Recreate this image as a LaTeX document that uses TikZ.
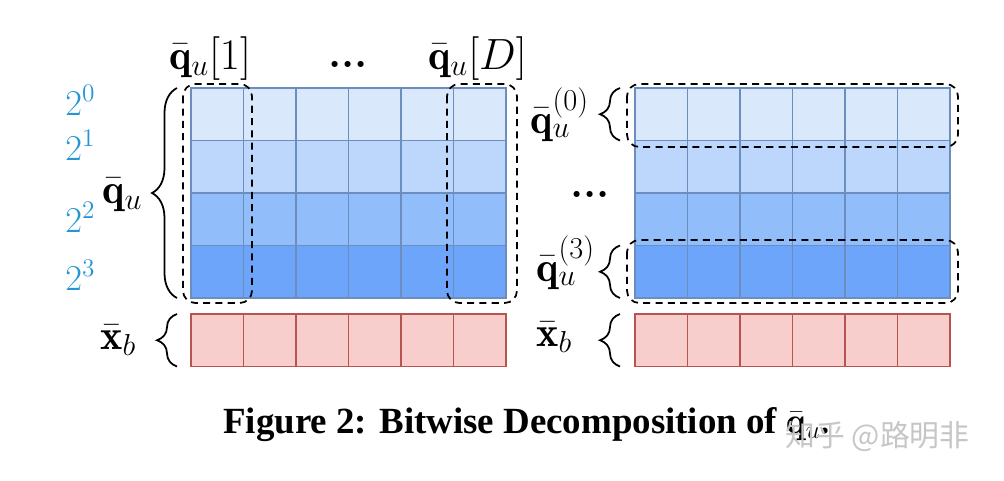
\documentclass[tikz,border=0pt]{standalone}
\usepackage{amsmath}
\usepackage{amssymb}
\usepackage{bm}
\usepackage{fontspec}
\newfontfamily\capfont{Liberation Serif}
\newfontfamily\cjkfont{Noto Sans CJK SC}
\usetikzlibrary{calc,positioning,decorations.pathreplacing}
\definecolor{bitA}{HTML}{DAE8FC}
\definecolor{bitB}{HTML}{BDD7FC}
\definecolor{bitC}{HTML}{91BEFA}
\definecolor{bitD}{HTML}{6CA5FA}
\definecolor{qline}{HTML}{6C8EBF}
\definecolor{xfill}{HTML}{F8CECC}
\definecolor{xline}{HTML}{B85450}
\definecolor{ink}{RGB}{38,150,210}

\begin{document}
\begin{tikzpicture}[>=latex,
  cell/.style={draw=qline, line width=0.9pt, minimum size=1.05cm, inner sep=0pt, outer sep=0pt},
  xcell/.style={draw=xline, fill=xfill, line width=0.9pt, minimum size=1.05cm, inner sep=0pt, outer sep=0pt},
  dashbox/.style={draw, line width=1pt, dash pattern=on 4pt off 3pt, rounded corners=7pt},
  curly/.style={decorate, decoration={brace, amplitude=#1}, line width=1pt},
  lab/.style={font=\fontsize{24}{28}\selectfont, inner sep=0pt},
  hand/.style={text=ink, font=\fontsize{20}{24}\selectfont, inner sep=0pt}]
\useasboundingbox (0,0) rectangle (20.08,-9.6);
% bit planes of q_u, left and right copy
\foreach \r/\col in {1/bitA,2/bitB,3/bitC,4/bitD} {
  \foreach \k in {1,...,6} {
    \node[cell, fill=\col] (a-\r-\k) at ({3.82+(\k-0.5)*1.05},{-1.76-(\r-0.5)*1.05}) {};
    \node[cell, fill=\col] (b-\r-\k) at ({12.70+(\k-0.5)*1.05},{-1.76-(\r-0.5)*1.05}) {};
  }
}
% x_b row
\foreach \k in {1,...,6} {
  \node[xcell] (xa-\k) at ({3.82+(\k-0.5)*1.05},-6.805) {};
  \node[xcell] (xb-\k) at ({12.70+(\k-0.5)*1.05},-6.805) {};
}
% dashed groups
\draw[dashbox] ([shift={(-0.16,0.08)}]a-1-1.north west) rectangle ([shift={(0.17,-0.10)}]a-4-1.south east);
\draw[dashbox] ([shift={(-0.13,0.08)}]a-1-6.north west) rectangle ([shift={(0.22,-0.10)}]a-4-6.south east);
\draw[dashbox] ([shift={(-0.16,0.08)}]b-1-1.north west) rectangle ([shift={(0.16,-0.13)}]b-1-6.south east);
\draw[dashbox] ([shift={(-0.16,0.11)}]b-4-1.north west) rectangle ([shift={(0.16,-0.10)}]b-4-6.south east);
% braces
\draw[curly=0.5cm] ([xshift=-0.28cm]a-4-1.south west) -- ([xshift=-0.28cm]a-1-1.north west);
\draw[curly=0.4cm] ([xshift=-0.28cm]xa-1.south west) -- ([xshift=-0.28cm]xa-1.north west);
\draw[curly=0.4cm] ([xshift=-0.30cm]b-1-1.south west) -- ([xshift=-0.30cm]b-1-1.north west);
\draw[curly=0.4cm] ([xshift=-0.30cm]b-4-1.south west) -- ([xshift=-0.30cm]b-4-1.north west);
\draw[curly=0.4cm] ([xshift=-0.30cm]xb-1.south west) -- ([xshift=-0.30cm]xb-1.north west);
% labels
\node[lab, anchor=base] (q1) at (4.2,-1.38) {$\bar{\mathbf{q}}_u[1]$};
\node[lab, anchor=base] (qd) at (9.55,-1.38) {$\bar{\mathbf{q}}_u[D]$};
\node[lab, anchor=base] (dt) at (6.96,-1.34) {\textbf{...}};
\node[lab, anchor=base west] (qu) at (2.04,-4.06) {$\bar{\mathbf{q}}_u$};
\node[lab, anchor=base west] (xl) at (2.0,-6.98) {$\bar{\mathbf{x}}_b$};
\node[lab, anchor=base west] (q0) at (10.6,-2.66) {$\bar{\mathbf{q}}_u^{(0)}$};
\node[lab, anchor=base west] (q3) at (10.72,-5.62) {$\bar{\mathbf{q}}_u^{(3)}$};
\node[lab, anchor=base west] (xr) at (10.72,-6.92) {$\bar{\mathbf{x}}_b$};
\node[lab, anchor=base] (dr) at (11.8,-3.94) {\textbf{...}};
% handwritten powers
\node[hand, anchor=base west] (h0) at (1.3,-2.3) {$2^0$};
\node[hand, anchor=base west] (h1) at (1.3,-3.2) {$2^1$};
\node[hand, anchor=base west] (h2) at (1.3,-4.64) {$2^2$};
\node[hand, anchor=base west] (h3) at (1.3,-5.8) {$2^3$};
% caption and watermark
\node[anchor=base west, inner sep=0pt, font=\capfont\bfseries\fontsize{21}{25}\selectfont] (cap) at (4.46,-8.66) {Figure 2: Bitwise Decomposition of $\bar{\mathbf{q}}_u$.};
\node[anchor=west, inner sep=0pt, text=gray!45, font=\cjkfont\fontsize{17}{20}\selectfont] (wm) at (15.7,-8.74) {知乎 @路明非};
\end{tikzpicture}
\end{document}
